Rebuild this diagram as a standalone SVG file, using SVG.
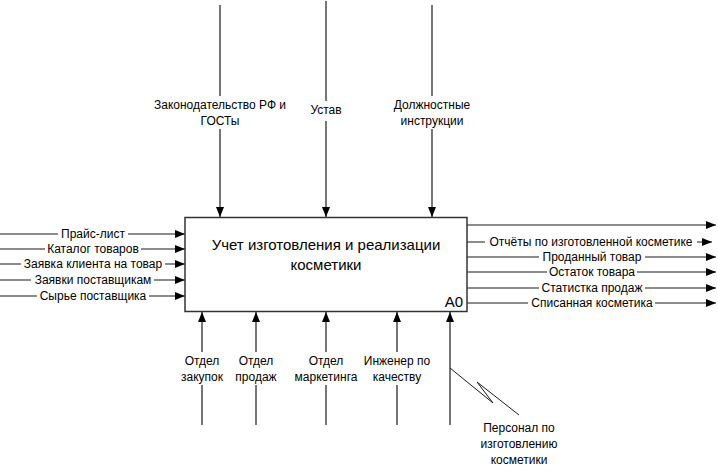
<svg xmlns="http://www.w3.org/2000/svg" width="718" height="474" viewBox="0 0 718 474">
<style>
.ln{stroke:#1a1a1a;stroke-width:1.2;fill:none}
.bg{fill:#fff;stroke:none}
.t{font-family:"Liberation Sans",Arial,sans-serif;font-size:12px;fill:#000;text-anchor:middle}
.title{font-family:"Liberation Sans",Arial,sans-serif;font-size:15px;fill:#000;text-anchor:middle}
.box{fill:#fff;stroke:#333;stroke-width:1.5}
</style>
<defs>
<marker id="ah" markerUnits="userSpaceOnUse" markerWidth="10" markerHeight="8" refX="10" refY="4" orient="auto">
<path d="M0,0 L10,4 L0,8 z" fill="#000"/>
</marker>
</defs>
<rect width="718" height="474" fill="#fff"/>
<g id="connectors">
<line class="ln" x1="0" y1="234" x2="185" y2="234" marker-end="url(#ah)"/>
<line class="ln" x1="0" y1="249" x2="185" y2="249" marker-end="url(#ah)"/>
<line class="ln" x1="0" y1="264" x2="185" y2="264" marker-end="url(#ah)"/>
<line class="ln" x1="0" y1="280" x2="185" y2="280" marker-end="url(#ah)"/>
<line class="ln" x1="0" y1="296" x2="185" y2="296" marker-end="url(#ah)"/>
<line class="ln" x1="467" y1="225" x2="716" y2="225" marker-end="url(#ah)"/>
<line class="ln" x1="467" y1="242" x2="712" y2="242" marker-end="url(#ah)"/>
<line class="ln" x1="467" y1="257" x2="716" y2="257" marker-end="url(#ah)"/>
<line class="ln" x1="467" y1="272" x2="716" y2="272" marker-end="url(#ah)"/>
<line class="ln" x1="467" y1="288" x2="716" y2="288" marker-end="url(#ah)"/>
<line class="ln" x1="467" y1="303" x2="716" y2="303" marker-end="url(#ah)"/>
<line class="ln" x1="220" y1="5" x2="220" y2="217" marker-end="url(#ah)"/>
<line class="ln" x1="326" y1="1" x2="326" y2="217" marker-end="url(#ah)"/>
<line class="ln" x1="432" y1="5" x2="432" y2="217" marker-end="url(#ah)"/>
<line class="ln" x1="202" y1="425" x2="202" y2="312" marker-end="url(#ah)"/>
<line class="ln" x1="256" y1="425" x2="256" y2="312" marker-end="url(#ah)"/>
<line class="ln" x1="326" y1="425" x2="326" y2="312" marker-end="url(#ah)"/>
<line class="ln" x1="397" y1="425" x2="397" y2="312" marker-end="url(#ah)"/>
<line class="ln" x1="450" y1="425" x2="450" y2="312" marker-end="url(#ah)"/>
<path d="M450,368 L493,403 L477,382 L519,415" fill="none" stroke="#1a1a1a" stroke-width="1"/>
</g>
<g id="labels-bg">
<rect class="bg" x="58" y="228" width="70" height="12"/>
<rect class="bg" x="45" y="243" width="96" height="12"/>
<rect class="bg" x="21" y="258" width="144" height="12"/>
<rect class="bg" x="31" y="274" width="123" height="12"/>
<rect class="bg" x="37" y="290" width="112" height="12"/>
<rect class="bg" x="485" y="236" width="212" height="12"/>
<rect class="bg" x="539" y="251" width="106" height="12"/>
<rect class="bg" x="547" y="266" width="90" height="12"/>
<rect class="bg" x="539" y="282" width="106" height="12"/>
<rect class="bg" x="528" y="297" width="127" height="12"/>
<rect class="bg" x="152" y="96" width="136" height="33"/>
<rect class="bg" x="308" y="101" width="36" height="20"/>
<rect class="bg" x="390" y="96" width="84" height="33"/>
<rect class="bg" x="180" y="352" width="44" height="33"/>
<rect class="bg" x="234" y="352" width="44" height="33"/>
<rect class="bg" x="292" y="352" width="68" height="33"/>
<rect class="bg" x="361" y="352" width="72" height="33"/>
</g>
<g id="A0">
<rect class="box" x="185" y="217.5" width="282" height="94"/>
<text class="title" x="326" y="249.5">Учет изготовления и реализации</text>
<text class="title" x="326" y="269.5">косметики</text>
<text x="463" y="307" font-family="'Liberation Sans',Arial,sans-serif" font-size="15" text-anchor="end">A0</text>
</g>
<g id="inputs">
<text class="t" x="93" y="238">Прайс-лист</text>
<text class="t" x="93" y="253">Каталог товаров</text>
<text class="t" x="93" y="268">Заявка клиента на товар</text>
<text class="t" x="93" y="284">Заявки поставщикам</text>
<text class="t" x="93" y="300">Сырье поставщика</text>
</g>
<g id="outputs">
<text class="t" x="591" y="246">Отчёты по изготовленной косметике</text>
<text class="t" x="592" y="261">Проданный товар</text>
<text class="t" x="592" y="276">Остаток товара</text>
<text class="t" x="592" y="292">Статистка продаж</text>
<text class="t" x="592" y="307">Списанная косметика</text>
</g>
<g id="controls">
<text class="t" x="220" y="108.5">Законодательство РФ и</text>
<text class="t" x="220" y="124.5">ГОСТы</text>
<text class="t" x="326" y="114">Устав</text>
<text class="t" x="432" y="108.5">Должностные</text>
<text class="t" x="432" y="124.5">инструкции</text>
</g>
<g id="mechanisms">
<text class="t" x="202" y="365">Отдел</text>
<text class="t" x="202" y="381">закупок</text>
<text class="t" x="256" y="365">Отдел</text>
<text class="t" x="256" y="381">продаж</text>
<text class="t" x="326" y="365">Отдел</text>
<text class="t" x="326" y="381">маркетинга</text>
<text class="t" x="397" y="365">Инженер по</text>
<text class="t" x="397" y="381">качеству</text>
<text class="t" x="519" y="432">Персонал по</text>
<text class="t" x="519" y="448">изготовлению</text>
<text class="t" x="519" y="464">косметики</text>
</g>
</svg>
